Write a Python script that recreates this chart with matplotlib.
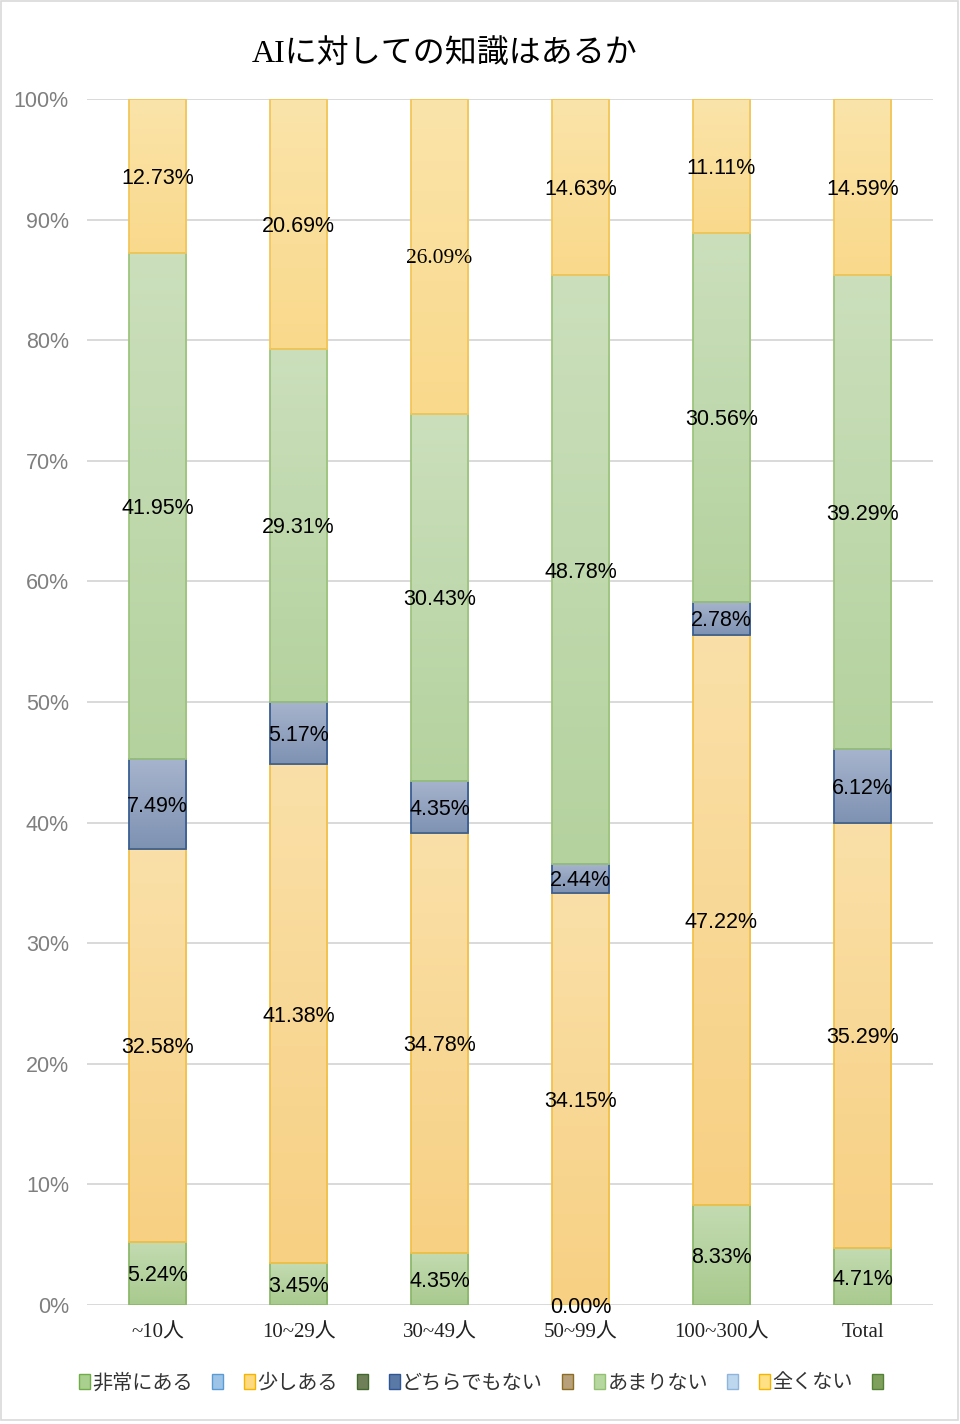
import numpy as np
import matplotlib
matplotlib.use('Agg')
import matplotlib.pyplot as plt
from matplotlib.colors import LinearSegmentedColormap
from matplotlib.patches import Patch, Rectangle

# データ
categories = ['~10人', '10~29人', '30~49人', '50~99人', '100~300人', 'Total']
series = ['非常にある', '少しある', 'どちらでもない', 'あまりない', '全くない']
hijou = [5.24, 3.45, 4.35, 0.00, 8.33, 4.71]
sukoshi = [32.58, 41.38, 34.78, 34.15, 47.22, 35.29]
dochira = [7.49, 5.17, 4.35, 2.44, 2.78, 6.12]
amari = [41.95, 29.31, 30.43, 48.78, 30.56, 39.29]
mattaku = [12.73, 20.69, 26.09, 14.63, 11.11, 14.59]
values = [hijou, sukoshi, dochira, amari, mattaku]
yticks = [0, 10, 20, 30, 40, 50, 60, 70, 80, 90, 100]

# (下, 上, 枠)
fills = [
    ('#a8ca8e', '#c4dbb2', '#8db96b'),
    ('#f7d083', '#fae0a8', '#f2c14a'),
    ('#7e92b2', '#a7b4cd', '#3a5e92'),
    ('#b4d29e', '#cbdfbc', '#9ec47e'),
    ('#f9d98b', '#fbe4aa', '#f2c65a'),
]
# 凡例 (空ラベル付き)
leg_items = [
    ('非常にある', '#a9d08e', '#70ad47'),
    ('', '#9dc3e6', '#5b9bd5'),
    ('少しある', '#ffd97f', '#f4b400'),
    ('', '#6f8058', '#43682b'),
    ('どちらでもない', '#5a79a5', '#2f5597'),
    ('', '#b8a07a', '#8c6d23'),
    ('あまりない', '#b6d7a0', '#94c073'),
    ('', '#bdd7ee', '#8fb4dd'),
    ('全くない', '#ffe085', '#f4b400'),
    ('', '#7f9f5d', '#548235'),
]

jp = ['Noto Sans CJK JP', 'DejaVu Sans']
serif_jp = ['Liberation Serif', 'Noto Sans CJK JP']
sans = ['Liberation Sans', 'DejaVu Sans']

fig = plt.figure(figsize=(9.6, 14.24), dpi=100)
ax = fig.add_axes([87/960, 1-1305/1424, 846/960, 1206/1424])

x = np.arange(len(categories))
w = 0.41
grad = np.linspace(0, 1, 128).reshape(-1, 1)
bottom = np.zeros(len(categories))
for s, vals in enumerate(values):
    lo, hi, ec = fills[s]
    cmap = LinearSegmentedColormap.from_list('g%d' % s, [lo, hi])
    for i, v in enumerate(vals):
        if v > 0:
            ax.imshow(grad, cmap=cmap, origin='lower', aspect='auto',
                      extent=[x[i]-w/2, x[i]+w/2, bottom[i], bottom[i]+v],
                      zorder=2, interpolation='bilinear')
    ax.bar(x, vals, w, bottom=bottom, fill=False, edgecolor=ec,
           linewidth=1.3, zorder=3)
    for i, v in enumerate(vals):
        fam = serif_jp if (s == 4 and i == 2) else sans
        ax.text(x[i], bottom[i]+v/2, '{:.2f}%'.format(v), ha='center',
                va='center_baseline', fontsize=15.5, family=fam,
                color='black', zorder=5)
    bottom += np.array(vals)

ax.set_xlim(-0.5, len(categories)-0.5)
ax.set_ylim(0, 100)
ax.set_yticks(yticks)
ax.set_yticklabels(['{}%'.format(t) for t in yticks], family=sans,
                   fontsize=15.5, color='#7f7f7f')
ax.set_xticks(x)
ax.set_xticklabels(categories, family=serif_jp, fontsize=15, color='#222222')
ax.tick_params(axis='both', length=0)
ax.tick_params(axis='y', pad=13)
ax.tick_params(axis='x', pad=13)
for sp in ax.spines.values():
    sp.set_visible(False)
ax.yaxis.grid(True, color='#d9d9d9', linewidth=1.4, zorder=0)
ax.set_axisbelow(True)

fig.text(445/960, 1-54/1424, 'AIに対しての知識はあるか', ha='center',
         va='center', fontsize=23, family=serif_jp)

handles = [Patch(facecolor=fc, edgecolor=ec, linewidth=1.0) for _, fc, ec in leg_items]
labels = [lab for lab, _, _ in leg_items]
fig.legend(handles, labels, loc='center', ncol=10,
           bbox_to_anchor=(482/960, 1-1383/1424), frameon=False,
           prop={'family': jp, 'size': 14.5}, handlelength=0.55,
           handleheight=0.7, handletextpad=0.1, columnspacing=0.95,
           labelcolor='#333333')

fig.add_artist(Rectangle((0.001, 0.003), 0.997, 0.996, transform=fig.transFigure,
                         fill=False, edgecolor='#d9d9d9', linewidth=1.2))

fig.savefig('out.png', dpi=100)
